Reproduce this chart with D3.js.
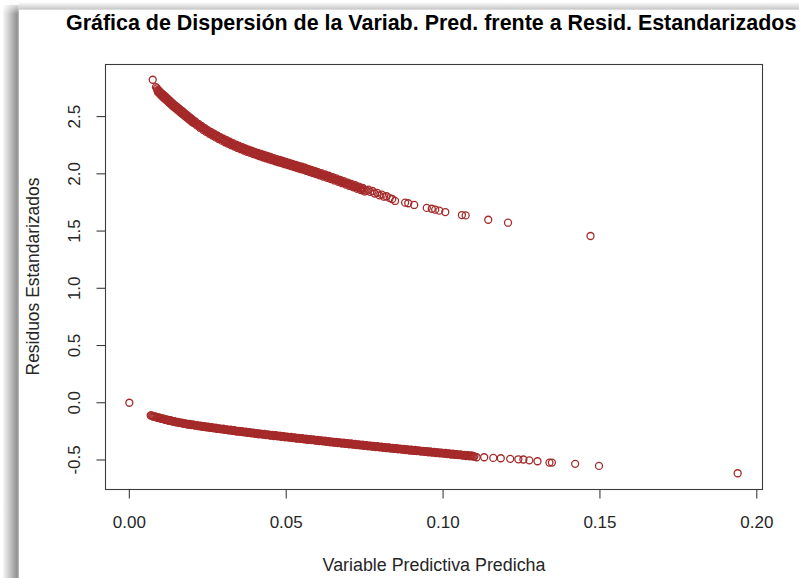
<!DOCTYPE html>
<html>
<head>
<meta charset="utf-8">
<script src="https://cdn.jsdelivr.net/npm/d3@7"></script>
<style>
  html, body { margin: 0; padding: 0; background: #fff; overflow: hidden; }
  svg { display: block; }
</style>
</head>
<body>
<svg id="chart" width="799" height="578"></svg>
<script>
// ---- text ----
const titleText = "Gráfica de Dispersión de la Variab. Pred. frente a Resid. Estandarizados";
const xLabel = "Variable Predictiva Predicha";
const yLabel = "Residuos Estandarizados";

// ---- axis ticks ----
const xTicks = [0, 0.05, 0.10, 0.15, 0.20];
const xTickLabels = ["0.00", "0.05", "0.10", "0.15", "0.20"];
const yTicks = [-0.5, 0, 0.5, 1, 1.5, 2, 2.5];
const yTickLabels = ["-0.5", "0.0", "0.5", "1.0", "1.5", "2.0", "2.5"];

// ---- observations: [predicted value, standardized residual] ----
const originPoint = [[0, 0]];

// positive residuals
const upperPoints = [
  [0.00746,2.822],[0.0085,2.757],
  [0.0088,2.747],[0.0091,2.714],[0.0094,2.729],[0.0097,2.697],[0.0100,2.712],[0.0103,2.680],
  [0.0106,2.697],[0.0109,2.665],[0.0112,2.682],[0.0115,2.650],[0.0118,2.667],[0.0121,2.635],
  [0.0124,2.652],[0.0127,2.620],[0.0130,2.637],[0.0133,2.605],[0.0136,2.622],[0.0139,2.590],
  [0.0142,2.607],[0.0145,2.577],[0.0148,2.594],[0.0151,2.563],[0.0154,2.580],[0.0157,2.550],
  [0.0160,2.567],[0.0163,2.536],[0.0166,2.553],[0.0169,2.523],[0.0172,2.540],[0.0175,2.509],
  [0.0178,2.526],[0.0181,2.496],[0.0184,2.513],[0.0187,2.482],[0.0190,2.499],[0.0193,2.469],
  [0.0196,2.486],[0.0199,2.455],
  [0.0200,2.477],[0.0205,2.443],[0.0210,2.457],[0.0215,2.423],[0.0220,2.437],[0.0225,2.403],
  [0.0230,2.418],[0.0235,2.385],[0.0240,2.400],[0.0245,2.367],[0.0250,2.382],[0.0255,2.350],
  [0.0260,2.366],[0.0265,2.334],[0.0270,2.350],[0.0275,2.318],[0.0280,2.335],[0.0285,2.304],
  [0.0290,2.321],[0.0295,2.290],[0.0300,2.307],[0.0305,2.276],[0.0310,2.294],[0.0315,2.263],
  [0.0320,2.281],[0.0325,2.250],[0.0330,2.268],[0.0335,2.238],[0.0340,2.256],[0.0345,2.226],
  [0.0350,2.244],[0.0355,2.215],[0.0360,2.233],[0.0365,2.204],[0.0370,2.222],[0.0375,2.193],
  [0.0380,2.212],[0.0385,2.183],[0.0390,2.202],[0.0395,2.173],[0.0400,2.192],[0.0405,2.163],
  [0.0410,2.183],[0.0415,2.154],[0.0420,2.174],[0.0425,2.145],[0.0430,2.165],[0.0435,2.136],
  [0.0440,2.156],[0.0445,2.127],[0.0450,2.147],[0.0455,2.119],[0.0460,2.138],[0.0465,2.110],
  [0.0470,2.129],[0.0475,2.101],[0.0480,2.121],[0.0485,2.093],[0.0490,2.112],[0.0495,2.084],
  [0.0500,2.104],[0.0505,2.076],[0.0510,2.096],[0.0515,2.067],[0.0520,2.087],[0.0525,2.059],
  [0.0530,2.079],[0.0535,2.051],[0.0540,2.070],[0.0545,2.042],[0.0550,2.062],[0.0555,2.034],
  [0.0560,2.053],[0.0565,2.025],[0.0570,2.044],[0.0575,2.016],[0.0580,2.035],[0.0585,2.007],
  [0.0590,2.026],[0.0595,1.998],[0.0600,2.017],
  [0.0606,1.987],[0.0612,2.005],[0.0618,1.976],[0.0624,1.994],[0.0630,1.965],[0.0636,1.983],
  [0.0642,1.954],[0.0648,1.972],[0.0654,1.942],[0.0660,1.960],[0.0666,1.930],[0.0672,1.948],
  [0.0678,1.918],[0.0684,1.936],[0.0690,1.906],[0.0696,1.924],[0.0702,1.894],[0.0708,1.912],
  [0.0714,1.882],[0.0720,1.900],[0.0726,1.870],[0.0732,1.888],[0.0738,1.858],[0.0744,1.876],
  [0.0750,1.846],
  [0.0757,1.852],[0.0762,1.862],[0.0768,1.842],[0.0775,1.850],[0.0782,1.828],[0.0790,1.834],
  [0.0797,1.812],[0.0805,1.818],[0.0812,1.800],[0.0820,1.804],[0.0830,1.788],[0.0838,1.780],
  [0.0847,1.763],
  [0.0879,1.748],[0.0889,1.743],[0.0908,1.728],[0.0948,1.702],[0.0964,1.695],[0.0975,1.687],
  [0.0988,1.678],[0.1007,1.666],[0.1060,1.640],[0.1072,1.637],[0.1144,1.599],[0.1207,1.573],
  [0.1470,1.457]
];

// positive residuals, second batch (fills the dense stretch of the curve)
const upperPointsMid = [
  [0.00895,2.731],[0.00925,2.722],[0.00955,2.713],[0.00985,2.705],[0.01015,2.696],[0.01045,2.689],
  [0.01075,2.681],[0.01105,2.674],[0.01135,2.666],[0.01165,2.659],[0.01195,2.651],[0.01225,2.644],
  [0.01255,2.636],[0.01285,2.629],[0.01315,2.621],[0.01345,2.614],[0.01375,2.606],[0.01405,2.599],
  [0.01435,2.592],[0.01465,2.586],[0.01495,2.579],[0.01525,2.572],[0.01555,2.565],[0.01585,2.559],
  [0.01615,2.552],[0.01645,2.545],[0.01675,2.538],[0.01705,2.532],[0.01735,2.525],[0.01765,2.518],
  [0.01795,2.511],[0.01825,2.505],[0.01855,2.498],[0.01885,2.491],[0.01915,2.484],[0.01945,2.478],
  [0.01975,2.471],
  [0.02025,2.460],[0.02075,2.450],[0.02125,2.440],[0.02175,2.430],[0.02225,2.420],[0.02275,2.411],
  [0.02325,2.402],[0.02375,2.393],[0.02425,2.384],[0.02475,2.375],[0.02525,2.366],[0.02575,2.358],
  [0.02625,2.350],[0.02675,2.342],[0.02725,2.334],[0.02775,2.327],[0.02825,2.320],[0.02875,2.313],
  [0.02925,2.306],[0.02975,2.299],[0.03025,2.292],[0.03075,2.285],[0.03125,2.279],[0.03175,2.272],
  [0.03225,2.266],[0.03275,2.259],[0.03325,2.253],[0.03375,2.247],[0.03425,2.241],[0.03475,2.235],
  [0.03525,2.230],[0.03575,2.224],[0.03625,2.219],[0.03675,2.213],[0.03725,2.208],[0.03775,2.203],
  [0.03825,2.198],[0.03875,2.193],[0.03925,2.188],[0.03975,2.183],[0.04025,2.178],[0.04075,2.173],
  [0.04125,2.169],[0.04175,2.164],[0.04225,2.160],[0.04275,2.155],[0.04325,2.151],[0.04375,2.146],
  [0.04425,2.142],[0.04475,2.137],[0.04525,2.133],[0.04575,2.129],[0.04625,2.124],[0.04675,2.120],
  [0.04725,2.115],[0.04775,2.111],[0.04825,2.107],[0.04875,2.103],[0.04925,2.098],[0.04975,2.094],
  [0.05025,2.090],[0.05075,2.086],[0.05125,2.082],[0.05175,2.077],[0.05225,2.073],[0.05275,2.069],
  [0.05325,2.065],[0.05375,2.061],[0.05425,2.056],[0.05475,2.052],[0.05525,2.048],[0.05575,2.044],
  [0.05625,2.039],[0.05675,2.035],[0.05725,2.030],[0.05775,2.026],[0.05825,2.021],[0.05875,2.017],
  [0.05925,2.012],[0.05975,2.008],
  [0.0603,2.002],[0.0609,1.996],[0.0615,1.991],[0.0621,1.985],[0.0627,1.980],[0.0633,1.974],
  [0.0639,1.969],[0.0645,1.963],[0.0651,1.957],[0.0657,1.951],[0.0663,1.945],[0.0669,1.939],
  [0.0675,1.933],[0.0681,1.927],[0.0687,1.921],[0.0693,1.915],[0.0699,1.909],[0.0705,1.903],
  [0.0711,1.897],[0.0717,1.891],[0.0723,1.885],[0.0729,1.879],[0.0735,1.873],[0.0741,1.867],
  [0.0747,1.861]
];

// negative residuals
const lowerPoints = [
  [0.0068,-0.111],[0.0074,-0.116],[0.0080,-0.121],[0.0086,-0.125],[0.0092,-0.130],[0.0098,-0.134],
  [0.0104,-0.139],[0.0110,-0.143],[0.0116,-0.147],[0.0122,-0.151],[0.0128,-0.155],[0.0134,-0.159],
  [0.0140,-0.163],[0.0146,-0.166],[0.0152,-0.170],[0.0158,-0.173],[0.0164,-0.176],[0.0170,-0.179],
  [0.0176,-0.182],[0.0182,-0.185],[0.0188,-0.188],[0.0194,-0.190],[0.0200,-0.193],[0.0206,-0.195],
  [0.0212,-0.198],[0.0218,-0.200],[0.0224,-0.203],[0.0230,-0.205],[0.0236,-0.207],[0.0242,-0.210],
  [0.0248,-0.212],[0.0254,-0.214],[0.0260,-0.217],[0.0266,-0.219],[0.0272,-0.221],[0.0278,-0.224],
  [0.0284,-0.226],[0.0290,-0.228],[0.0296,-0.230],[0.0302,-0.232],[0.0308,-0.235],[0.0314,-0.237],
  [0.0320,-0.239],[0.0326,-0.241],[0.0332,-0.243],[0.0338,-0.246],[0.0344,-0.248],[0.0350,-0.250],
  [0.0356,-0.252],[0.0362,-0.254],[0.0368,-0.256],[0.0374,-0.258],[0.0380,-0.260],[0.0386,-0.262],
  [0.0392,-0.264],[0.0398,-0.266],[0.0404,-0.268],[0.0410,-0.270],[0.0416,-0.272],[0.0422,-0.274],
  [0.0428,-0.276],[0.0434,-0.278],[0.0440,-0.280],[0.0446,-0.282],[0.0452,-0.284],[0.0458,-0.286],
  [0.0464,-0.287],[0.0470,-0.289],[0.0476,-0.291],[0.0482,-0.293],[0.0488,-0.295],[0.0494,-0.297],
  [0.0500,-0.299],[0.0506,-0.300],[0.0512,-0.302],[0.0518,-0.304],[0.0524,-0.306],[0.0530,-0.308],
  [0.0536,-0.310],[0.0542,-0.311],[0.0548,-0.313],[0.0554,-0.315],[0.0560,-0.317],[0.0566,-0.319],
  [0.0572,-0.321],[0.0578,-0.322],[0.0584,-0.324],[0.0590,-0.326],[0.0596,-0.328],[0.0602,-0.330],
  [0.0608,-0.331],[0.0614,-0.333],[0.0620,-0.335],[0.0626,-0.337],[0.0632,-0.338],[0.0638,-0.340],
  [0.0644,-0.342],[0.0650,-0.344],[0.0656,-0.345],[0.0662,-0.347],[0.0668,-0.349],[0.0674,-0.351],
  [0.0680,-0.352],[0.0686,-0.354],[0.0692,-0.356],[0.0698,-0.358],[0.0704,-0.359],[0.0710,-0.361],
  [0.0716,-0.363],[0.0722,-0.365],[0.0728,-0.366],[0.0734,-0.368],[0.0740,-0.370],[0.0746,-0.372],
  [0.0752,-0.373],[0.0758,-0.375],[0.0764,-0.377],[0.0770,-0.378],[0.0776,-0.380],[0.0782,-0.382],
  [0.0788,-0.383],[0.0794,-0.385],[0.0800,-0.387],[0.0806,-0.388],[0.0812,-0.390],[0.0818,-0.392],
  [0.0824,-0.393],[0.0830,-0.395],[0.0836,-0.397],[0.0842,-0.398],[0.0848,-0.400],[0.0854,-0.402],
  [0.0860,-0.403],[0.0866,-0.405],[0.0872,-0.407],[0.0878,-0.408],[0.0884,-0.410],[0.0890,-0.412],
  [0.0896,-0.413],[0.0902,-0.415],[0.0908,-0.416],[0.0914,-0.418],[0.0920,-0.420],[0.0926,-0.421],
  [0.0932,-0.423],[0.0938,-0.424],[0.0944,-0.426],[0.0950,-0.428],[0.0956,-0.429],[0.0962,-0.431],
  [0.0968,-0.432],[0.0974,-0.434],[0.0980,-0.436],[0.0986,-0.437],[0.0992,-0.439],[0.0998,-0.440],
  [0.1004,-0.442],[0.1010,-0.444],[0.1016,-0.445],[0.1022,-0.447],[0.1028,-0.448],[0.1034,-0.450],
  [0.1040,-0.452],[0.1046,-0.453],[0.1052,-0.455],[0.1058,-0.456],[0.1064,-0.458],[0.1070,-0.460],
  [0.1076,-0.461],[0.1082,-0.463],[0.1088,-0.464],[0.1094,-0.466],[0.1100,-0.468],
  [0.1107,-0.476],[0.1131,-0.476],[0.1160,-0.482],[0.1184,-0.485],[0.1214,-0.490],[0.1240,-0.494],
  [0.1256,-0.496],[0.1275,-0.503],[0.1301,-0.511],[0.1339,-0.523],[0.1347,-0.523],[0.1421,-0.534],
  [0.1497,-0.552],[0.1939,-0.616]
];

// negative residuals, second batch
const lowerPointsMid = [
  [0.0071,-0.110],[0.0077,-0.122],[0.0083,-0.119],[0.0089,-0.131],[0.0095,-0.128],[0.0101,-0.140],
  [0.0107,-0.137],[0.0113,-0.149],[0.0119,-0.145],[0.0125,-0.157],[0.0131,-0.153],[0.0137,-0.165],
  [0.0143,-0.160],[0.0149,-0.172],[0.0155,-0.168],[0.0161,-0.178],[0.0167,-0.174],[0.0173,-0.184],
  [0.0179,-0.180],[0.0185,-0.190],[0.0191,-0.185],[0.0197,-0.195],[0.0203,-0.190],[0.0209,-0.200],
  [0.0215,-0.195],[0.0221,-0.205],[0.0227,-0.200],[0.0233,-0.210],[0.0239,-0.204],[0.0245,-0.215],
  [0.0251,-0.209],[0.0257,-0.219],[0.0263,-0.214],[0.0269,-0.224],[0.0275,-0.218],[0.0281,-0.229],
  [0.0287,-0.223],[0.0293,-0.233],[0.0299,-0.227],[0.0305,-0.237],[0.0311,-0.232],[0.0317,-0.242],
  [0.0323,-0.236],[0.0329,-0.246],[0.0335,-0.240],[0.0341,-0.251],[0.0347,-0.245],[0.0353,-0.255],
  [0.0359,-0.249],[0.0365,-0.259],[0.0371,-0.253],[0.0377,-0.263],[0.0383,-0.257],[0.0389,-0.267],
  [0.0395,-0.261],[0.0401,-0.271],[0.0407,-0.265],[0.0413,-0.275],[0.0419,-0.269],[0.0425,-0.279],
  [0.0431,-0.273],[0.0437,-0.283],[0.0443,-0.277],[0.0449,-0.287],[0.0455,-0.281],[0.0461,-0.291],
  [0.0467,-0.284],[0.0473,-0.294],[0.0479,-0.288],[0.0485,-0.298],[0.0491,-0.292],[0.0497,-0.302],
  [0.0503,-0.296],[0.0509,-0.305],[0.0515,-0.299],[0.0521,-0.309],[0.0527,-0.303],[0.0533,-0.313],
  [0.0539,-0.307],[0.0545,-0.316],[0.0551,-0.310],[0.0557,-0.320],[0.0563,-0.314],[0.0569,-0.324],
  [0.0575,-0.318],[0.0581,-0.327],[0.0587,-0.321],[0.0593,-0.331],[0.0599,-0.325],[0.0605,-0.335],
  [0.0611,-0.328],[0.0617,-0.338],[0.0623,-0.332],[0.0629,-0.342],[0.0635,-0.335],[0.0641,-0.345],
  [0.0647,-0.339],[0.0653,-0.349],[0.0659,-0.342],[0.0665,-0.352],[0.0671,-0.346],[0.0677,-0.356],
  [0.0683,-0.349],[0.0689,-0.359],[0.0695,-0.353],[0.0701,-0.363],[0.0707,-0.356],[0.0713,-0.366],
  [0.0719,-0.360],[0.0725,-0.370],[0.0731,-0.363],[0.0737,-0.373],[0.0743,-0.367],[0.0749,-0.377],
  [0.0755,-0.370],[0.0761,-0.380],[0.0767,-0.374],[0.0773,-0.383],[0.0779,-0.377],[0.0785,-0.387],
  [0.0791,-0.380],[0.0797,-0.390],[0.0803,-0.384],[0.0809,-0.393],[0.0815,-0.387],[0.0821,-0.397],
  [0.0827,-0.390],[0.0833,-0.400],[0.0839,-0.394],[0.0845,-0.403],[0.0851,-0.397],[0.0857,-0.407],
  [0.0863,-0.400],[0.0869,-0.410],[0.0875,-0.404],[0.0881,-0.413],[0.0887,-0.407],[0.0893,-0.417],
  [0.0899,-0.410],[0.0905,-0.420],[0.0911,-0.413],[0.0917,-0.423],[0.0923,-0.417],[0.0929,-0.426],
  [0.0935,-0.420],[0.0941,-0.429],[0.0947,-0.423],[0.0953,-0.433],[0.0959,-0.426],[0.0965,-0.436],
  [0.0971,-0.429],[0.0977,-0.439],[0.0983,-0.433],[0.0989,-0.442],[0.0995,-0.436],[0.1001,-0.445],
  [0.1007,-0.439],[0.1013,-0.449],[0.1019,-0.442],[0.1025,-0.452],[0.1031,-0.445],[0.1037,-0.455],
  [0.1043,-0.449],[0.1049,-0.458],[0.1055,-0.452],[0.1061,-0.461],[0.1067,-0.455],[0.1073,-0.465],
  [0.1079,-0.458],[0.1085,-0.468],[0.1091,-0.461],[0.1097,-0.471]
];

// ---- layout ----
const W = 799, H = 578;
const box = { left: 105, right: 762, top: 64, bottom: 489 };
const FONT = "'Liberation Sans', Arial, Helvetica, sans-serif";
const pointColor = "#a52a2a";

const svg = d3.select("#chart");
svg.append("rect").attr("width", W).attr("height", H).attr("fill", "#fff");

// window shadow along the left and top edges
const defs = svg.append("defs");
const gLeft = defs.append("linearGradient").attr("id", "shadeLeft")
  .attr("x1", "0").attr("x2", "1").attr("y1", "0").attr("y2", "0");
[["0%", "#f6f6f6"], ["30%", "#d6d6d6"], ["65%", "#acacac"], ["88%", "#909090"], ["100%", "#bdbdbd"]]
  .forEach(([o, c]) => gLeft.append("stop").attr("offset", o).attr("stop-color", c));
const gTop = defs.append("linearGradient").attr("id", "shadeTop")
  .attr("x1", "0").attr("x2", "0").attr("y1", "0").attr("y2", "1");
[["0%", "#ffffff"], ["45%", "#e2e2e2"], ["85%", "#cbcbcb"], ["100%", "#e4e4e4"]]
  .forEach(([o, c]) => gTop.append("stop").attr("offset", o).attr("stop-color", c));
const gTopFade = defs.append("linearGradient").attr("id", "fadeTopLeft")
  .attr("x1", "0").attr("x2", "0").attr("y1", "0").attr("y2", "1");
gTopFade.append("stop").attr("offset", "0%").attr("stop-color", "#fff").attr("stop-opacity", 1);
gTopFade.append("stop").attr("offset", "100%").attr("stop-color", "#fff").attr("stop-opacity", 0);

svg.append("rect").attr("x", 10).attr("y", 2).attr("width", W - 10).attr("height", 8)
  .attr("fill", "url(#shadeTop)");
svg.append("rect").attr("x", 3).attr("y", 5).attr("width", 16).attr("height", H - 5)
  .attr("fill", "url(#shadeLeft)");
svg.append("rect").attr("x", 3).attr("y", 0).attr("width", 16).attr("height", 14)
  .attr("fill", "url(#fadeTopLeft)");
svg.append("rect").attr("x", 19).attr("y", 10).attr("width", W - 19).attr("height", H - 10)
  .attr("fill", "#fff");

// ---- scales (R style: data range padded by 4%) ----
const allPoints = originPoint.concat(upperPoints, upperPointsMid, lowerPoints, lowerPointsMid);
const pad4 = e => { const d = (e[1] - e[0]) * 0.04; return [e[0] - d, e[1] + d]; };
const x = d3.scaleLinear().domain(pad4(d3.extent(allPoints, d => d[0]))).range([box.left, box.right]);
const y = d3.scaleLinear().domain(pad4(d3.extent(allPoints, d => d[1]))).range([box.bottom, box.top]);

// ---- points ----
const pts = svg.append("g")
  .attr("fill", "none").attr("stroke", pointColor).attr("stroke-width", 1.3);
pts.selectAll("circle").data(allPoints).join("circle")
  .attr("cx", d => x(d[0])).attr("cy", d => y(d[1])).attr("r", 3.5);

// ---- plot box ----
svg.append("rect")
  .attr("x", box.left + 0.5).attr("y", box.top + 0.5)
  .attr("width", box.right - box.left).attr("height", box.bottom - box.top)
  .attr("fill", "none").attr("stroke", "#3c3c3c").attr("stroke-width", 1.1);

// ---- axes ----
const axisColor = "#3c3c3c", tickTextColor = "#262626";
const xAxis = svg.append("g").attr("transform", `translate(0,${box.bottom + 0.5})`)
  .call(d3.axisBottom(x).tickValues(xTicks).tickFormat((d, i) => xTickLabels[i])
    .tickSize(9).tickPadding(17).offset(0));
xAxis.select(".domain").remove();
xAxis.attr("font-family", FONT).attr("font-size", 17);
xAxis.selectAll(".tick line").attr("stroke", axisColor).attr("stroke-width", 1.1);
xAxis.selectAll(".tick text").attr("fill", tickTextColor);

const yAxis = svg.append("g").attr("transform", `translate(${box.left + 0.5},0)`)
  .call(d3.axisLeft(y).tickValues(yTicks).tickFormat((d, i) => yTickLabels[i])
    .tickSize(9).offset(0));
yAxis.select(".domain").remove();
yAxis.attr("font-family", FONT).attr("font-size", 17);
yAxis.selectAll(".tick line").attr("stroke", axisColor).attr("stroke-width", 1.1);
yAxis.selectAll(".tick text")
  .attr("fill", tickTextColor)
  .attr("x", null).attr("dy", null)
  .attr("text-anchor", "middle")
  .attr("transform", "translate(-25.5,0) rotate(-90)");

// ---- titles ----
function fitWidth(sel, target) {
  const fs = parseFloat(sel.attr("font-size"));
  const w = sel.node().getComputedTextLength();
  sel.attr("font-size", fs * target / w);
}

const title = svg.append("text")
  .attr("x", 66).attr("y", 30)
  .attr("font-family", FONT).attr("font-weight", "bold").attr("font-size", 21)
  .attr("fill", "#000").text(titleText);
fitWidth(title, 731);

const xl = svg.append("text")
  .attr("x", (box.left + box.right) / 2 + 0.5).attr("y", 571)
  .attr("text-anchor", "middle")
  .attr("font-family", FONT).attr("font-size", 17.5)
  .attr("fill", tickTextColor).text(xLabel);
fitWidth(xl, 223);

const yl = svg.append("text")
  .attr("transform", `translate(39,${(box.top + box.bottom) / 2}) rotate(-90)`)
  .attr("text-anchor", "middle")
  .attr("font-family", FONT).attr("font-size", 17.5)
  .attr("fill", tickTextColor).text(yLabel);
fitWidth(yl, 198);
</script>
</body>
</html>
